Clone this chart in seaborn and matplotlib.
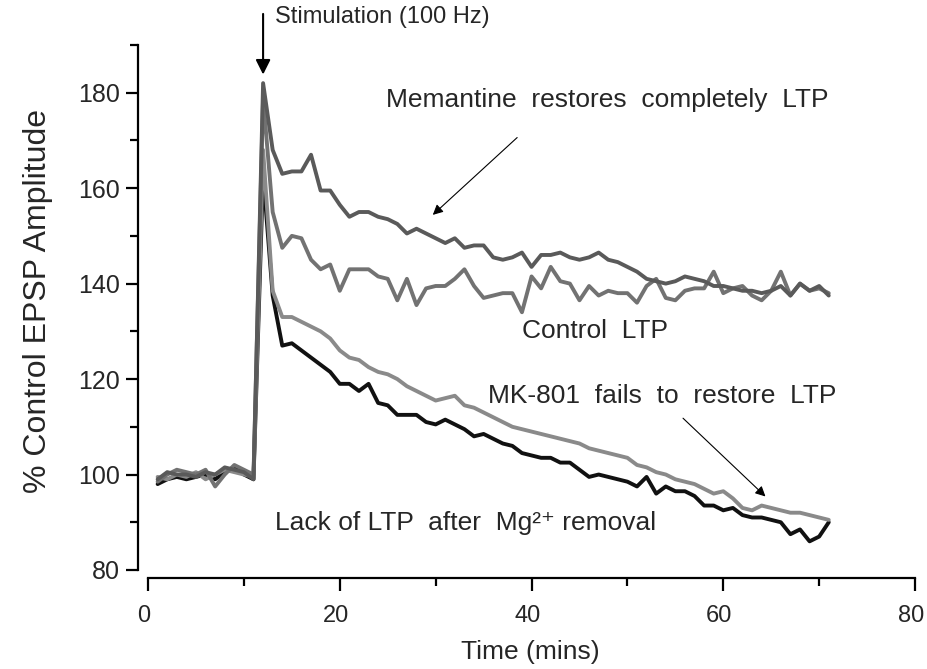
import pandas as pd
import matplotlib.pyplot as plt
import matplotlib.transforms as mtransforms
import seaborn as sns
from matplotlib.ticker import MultipleLocator

# ---- data (time in min, % of control EPSP amplitude) ----
time_min = list(range(1, 72))

memantine = [99, 100.5, 100, 100, 99.5, 100.5, 100, 101.5, 101, 100.5, 99,
             182, 168, 163, 163.5, 163.5, 167, 159.5, 159.5, 156.5, 154,
             155, 155, 154, 153.5, 152.5, 150.5, 151.5, 150.5, 149.5, 148.5,
             149.5, 147.5, 148, 148, 145.5, 145, 145.5, 146.5, 143.5, 146,
             146, 146.5, 145.5, 145, 145.5, 146.5, 145, 144.5, 143.5, 142.5,
             141, 140.5, 140, 140.5, 141.5, 141, 140.5, 139.5, 139.5, 139,
             138.5, 138.5, 138, 138.5, 139.5, 137.5, 140, 138.5, 139.5, 137.5]

control = [98.5, 100, 101, 100.5, 100, 101, 97.5, 100, 102, 101, 100,
           179, 155, 147.5, 150, 149.5, 145, 143, 144, 138.5, 143,
           143, 143, 141.5, 141, 136.5, 141, 135.5, 139, 139.5, 139.5,
           141, 143, 139.5, 137, 137.5, 138, 138, 134, 141.5, 139,
           143.5, 140.5, 140, 136.5, 139.5, 137.5, 138.5, 138, 138, 136,
           139.5, 141, 137, 136.5, 138.5, 139, 139, 142.5, 138, 139,
           139.5, 137.5, 136.5, 138.5, 142.5, 137.5, 140, 138.5, 139, 138]

mk801 = [99.5, 99, 100, 99.5, 100.5, 99, 100, 101, 100.5, 100, 99.5,
         168, 138.5, 133, 133, 132, 131, 130, 128.5, 126, 124.5,
         124, 122.5, 121.5, 121, 120, 118.5, 117.5, 116.5, 115.5, 116,
         116.5, 114.5, 114, 113, 112, 111, 110, 109.5, 109, 108.5,
         108, 107.5, 107, 106.5, 105.5, 105, 104.5, 104, 103.5, 102,
         101.5, 100.5, 100, 99, 98.5, 98, 97, 96, 96.5, 95,
         93, 92.5, 93.5, 93, 92.5, 92, 92, 91.5, 91, 90.5]

mg_removal = [98, 99, 99.5, 99, 99.5, 100, 99, 100.5, 101.5, 100, 99,
              163, 137.5, 127, 127.5, 126, 124.5, 123, 121.5, 119, 119,
              117.5, 119, 115, 114.5, 112.5, 112.5, 112.5, 111, 110.5, 111.5,
              110.5, 109.5, 108, 108.5, 107.5, 106.5, 106, 104.5, 104, 103.5,
              103.5, 102.5, 102.5, 101, 99.5, 100, 99.5, 99, 98.5, 97.5,
              99.5, 96, 97.5, 96.5, 96.5, 95.5, 93.5, 93.5, 92.5, 93,
              91.5, 91, 91, 90.5, 90, 87.5, 88.5, 86, 87, 90]

series = {"Mg removal": mg_removal, "MK-801": mk801,
          "Control": control, "Memantine": memantine}
colors = {"Mg removal": "#111111", "MK-801": "#8a8a8a",
          "Control": "#727272", "Memantine": "#5a5a5a"}

df = pd.concat([pd.DataFrame({"time": time_min, "amp": v, "cond": k})
                for k, v in series.items()], ignore_index=True)

# ---- style ----
sns.set_style("ticks")
plt.rcParams["font.family"] = ["Liberation Sans", "DejaVu Sans"]

fig = plt.figure(figsize=(9.27, 6.69), dpi=100)
ax = fig.add_axes([0.1597, 0.148, 0.8274, 0.7848])

sns.lineplot(data=df, x="time", y="amp", hue="cond", hue_order=list(series),
             palette=colors, estimator=None, sort=False, linewidth=2.8,
             legend=False, ax=ax)

ax.set_xlim(0, 80)
ax.set_ylim(80, 190)
ax.xaxis.set_major_locator(MultipleLocator(20))
ax.xaxis.set_minor_locator(MultipleLocator(10))
ax.yaxis.set_major_locator(MultipleLocator(20))
ax.yaxis.set_minor_locator(MultipleLocator(10))
ax.set_yticks(range(80, 181, 20))

for side in ["top", "right"]:
    ax.spines[side].set_visible(False)
ax.spines["left"].set_position(("outward", 7))
ax.spines["bottom"].set_position(("outward", 6))
for side in ["left", "bottom"]:
    ax.spines[side].set_linewidth(1.6)
    ax.spines[side].set_color("black")

ax.tick_params(which="major", length=9, width=1.6, labelsize=18, color="black")
ax.tick_params(which="minor", length=6, width=1.6, color="black")
ax.tick_params(axis="x", pad=10, labelsize=17)
ax.tick_params(axis="y", pad=4)

# nudge x tick labels a little left so "80" stays inside the figure
shift = mtransforms.ScaledTranslation(-3 / 72, 0, fig.dpi_scale_trans)
for lbl in ax.get_xticklabels():
    lbl.set_transform(lbl.get_transform() + shift)

ax.set_xlabel("Time (mins)", fontsize=19)
ax.set_ylabel("% Control EPSP Amplitude", fontsize=23)
ax.xaxis.set_label_coords(0.498, -0.156)
ax.xaxis.label.set_va("center")
ax.yaxis.set_label_coords(-0.143, 0.512)
ax.yaxis.label.set_va("center")

# ---- annotations ----
ax.annotate("", xy=(12, 183.8), xytext=(12, 196.5),
            arrowprops=dict(arrowstyle="-|>", lw=1.5, color="black",
                            mutation_scale=22, shrinkA=0, shrinkB=0),
            annotation_clip=False)
ax.text(13.2, 195.9, "Stimulation (100 Hz)", fontsize=17, ha="left",
        va="center", clip_on=False)

ax.text(47.9, 178.5, "Memantine  restores  completely  LTP", fontsize=19,
        ha="center", va="center")
ax.annotate("", xy=(29.7, 154.4), xytext=(38.5, 170.6),
            arrowprops=dict(arrowstyle="-|>", lw=0.8, color="black",
                            mutation_scale=15, shrinkA=0, shrinkB=0))

ax.text(46.6, 130.0, "Control  LTP", fontsize=19, ha="center", va="center")

ax.text(53.6, 116.5, "MK-801  fails  to  restore  LTP", fontsize=19,
        ha="center", va="center")
ax.annotate("", xy=(64.4, 95.4), xytext=(55.8, 111.8),
            arrowprops=dict(arrowstyle="-|>", lw=0.8, color="black",
                            mutation_scale=15, shrinkA=0, shrinkB=0))

ax.text(33.1, 89.8, "Lack of LTP  after  Mg\u00b2\u207a removal",
        fontsize=19, ha="center", va="center")

fig.savefig("out.png", dpi=100)
